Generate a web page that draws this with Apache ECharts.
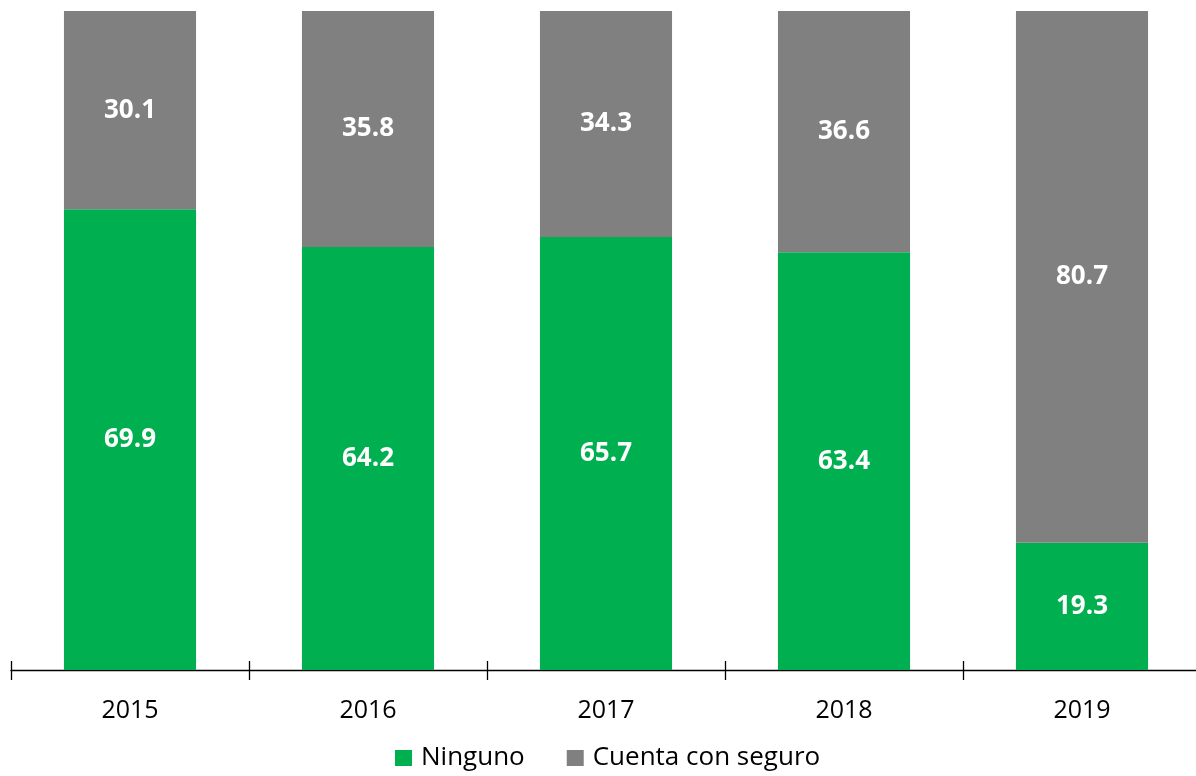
<!DOCTYPE html>
<html>
<head>
<meta charset="utf-8">
<script src="https://cdn.jsdelivr.net/npm/echarts@6/dist/echarts.min.js"></script>
<style>
  html, body { margin: 0; padding: 0; background: #fff; }
  #chart { width: 1196px; height: 776px; }
</style>
</head>
<body>
<div id="chart"></div>
<script>
const years = ['2015', '2016', '2017', '2018', '2019']
const ninguno = [69.9, 64.2, 65.7, 63.4, 19.3]
const conSeguro = [30.1, 35.8, 34.3, 36.6, 80.7]

const font = 'Open Sans, Lato, sans-serif'

let chart = echarts.init(document.getElementById('chart'))

let barLabel = {
    show: true,
    color: '#fff',
    fontWeight: 'bold',
    fontSize: 26,
    fontFamily: font,
    formatter: e => e.value.toFixed(1)
}

chart.setOption({
    animation: false,
    grid: { left: 11, right: -5, top: 11, bottom: 106, outerBoundsMode: 'none', containLabel: false },
    legend: {
        bottom: 0,
        left: 390,
        itemWidth: 17,
        itemHeight: 16,
        itemGap: 42,
        icon: 'rect',
        textStyle: { fontSize: 26, fontFamily: font, color: '#000', padding: [0, 0, 0, 4] },
        data: ['Ninguno', 'Cuenta con seguro']
    },
    xAxis: [
        {
            type: 'category',
            data: years,
            axisLine: { lineStyle: { color: '#000', width: 1.3 } },
            axisTick: { show: true, length: 10, lineStyle: { color: '#000', width: 1.3 } },
            axisLabel: { fontSize: 25, fontFamily: font, color: '#000', margin: 28 }
        },
        {
            // second axis only to draw the inner half of the cross ticks
            type: 'category',
            data: years,
            position: 'bottom',
            axisLine: { show: false },
            axisTick: { show: true, inside: true, length: 9, lineStyle: { color: '#000', width: 1.3 } },
            axisLabel: { show: false }
        }
    ],
    yAxis: {
        type: 'value',
        min: 0,
        max: 100,
        show: false,
        splitLine: { show: false }
    },
    series: [
        {
            name: 'Ninguno',
            type: 'bar',
            stack: 'total',
            barWidth: '55.5%',
            data: ninguno,
            itemStyle: { color: '#00B050' },
            label: barLabel
        },
        {
            name: 'Cuenta con seguro',
            type: 'bar',
            stack: 'total',
            barWidth: '55.5%',
            data: conSeguro,
            itemStyle: { color: '#808080' },
            label: barLabel
        }
    ]
})
</script>
</body>
</html>
